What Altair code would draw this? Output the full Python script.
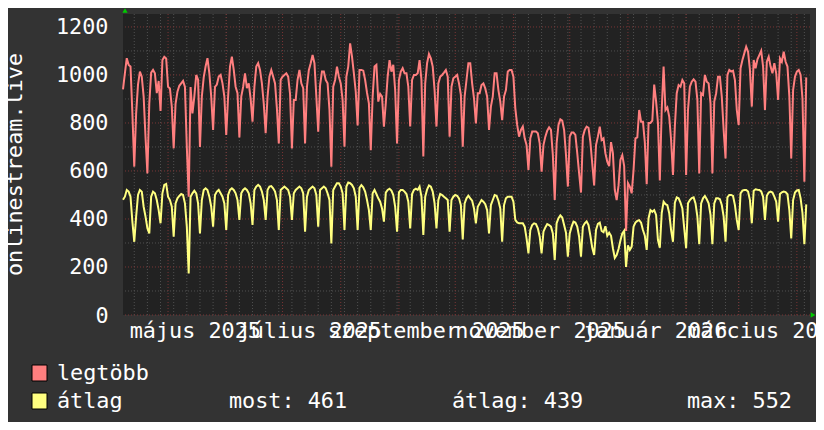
import altair as alt
import pandas as pd

# ---------------- data (daily values) ----------------
START = "2025-04-07"

legtobb = [
    940, 1007, 1070, 1042, 1035, 840, 618,
    840, 960, 1014, 993, 910, 740, 590,
    880, 1010, 1021, 1007, 924, 975, 850,
    1062, 1076, 1069, 951, 944, 868, 694,
    880, 930, 955, 965, 975, 950, 700,
    493, 950, 840, 910, 1000, 980, 700,
    910, 990, 1035, 1070, 1007, 910, 771,
    950, 960, 993, 1000, 965, 910, 750,
    910, 1035, 1076, 1021, 951, 924, 740,
    910, 950, 1007, 945, 965, 900, 805,
    950, 1035, 1049, 1021, 965, 880, 757,
    910, 993, 1020, 993, 965, 860, 715,
    980, 993, 1000, 1007, 993, 920, 694,
    896, 896, 980, 1021, 965, 945, 715,
    950, 1020, 1049, 1083, 1049, 910, 764,
    958, 1014, 1014, 979, 965, 854, 618,
    951, 979, 1035, 993, 965, 896, 701,
    993, 1035, 1132, 1076, 1007, 930, 790,
    1021, 1021, 1018, 979, 926, 882, 687,
    910, 1035, 1042, 889, 921, 910, 785,
    882, 993, 1062, 1014, 1042, 937, 715,
    979, 1014, 1028, 1007, 1007, 951, 785,
    979, 1000, 1000, 1007, 1062, 979, 660,
    965, 1049, 1087, 1069, 1035, 937, 785,
    965, 993, 1000, 1010, 1021, 993, 743,
    951, 986, 993, 1000, 965, 917, 701,
    910, 979, 1049, 1049, 965, 903, 798,
    924, 924, 958, 965, 944, 910, 771,
    868, 910, 1007, 1007, 937, 889, 812,
    910, 937, 1014, 1021, 1021, 993, 861,
    792, 743, 771, 785, 736, 708, 604,
    736, 764, 764, 764, 757, 715, 597,
    708, 743, 768, 782, 771, 667, 479,
    715, 792, 815, 810, 771, 667, 535,
    743, 760, 760, 750, 674, 590, 510,
    743, 771, 785, 780, 720, 630, 540,
    708, 743, 785, 729, 736, 674, 639,
    620, 720, 674, 521, 479, 540, 646,
    666, 620, 350, 550, 535, 507, 604,
    736, 740, 854, 805, 805, 720, 545,
    800, 800, 810, 960, 890, 800, 560,
    854, 1035, 854, 865, 826, 729, 583,
    785, 924, 958, 951, 979, 965, 583,
    854, 951, 972, 982, 972, 896, 590,
    924, 917, 1000, 972, 965, 882, 590,
    889, 924, 993, 993, 910, 771, 652,
    1000, 1021, 1014, 1018, 979, 854, 792,
    1028, 1062, 1090, 1118, 1097, 1021, 868,
    1062, 1028, 1065, 1083, 1101, 1035, 854,
    1055, 1076, 1035, 1007, 1049, 1007, 896,
    1069, 1055, 1097, 1055, 1035, 910, 652,
    937, 993, 1014, 1021, 1000, 900, 555,
    990,
]

atlag = [
    480, 493, 521, 514, 493, 389, 305,
    410, 500, 521, 514, 451, 410, 361,
    340, 493, 514, 507, 479, 437, 382,
    507, 542, 546, 493, 479, 451, 326,
    465, 486, 496, 504, 500, 465, 368,
    173, 493, 507, 518, 507, 465, 340,
    479, 521, 528, 521, 493, 451, 368,
    500, 514, 521, 507, 493, 465, 354,
    500, 521, 528, 521, 507, 479, 396,
    507, 521, 528, 521, 507, 465, 375,
    521, 535, 542, 535, 514, 479, 396,
    521, 535, 537, 528, 514, 479, 354,
    521, 528, 535, 528, 521, 493, 396,
    507, 521, 528, 535, 528, 507, 347,
    493, 521, 528, 535, 528, 500, 368,
    521, 528, 535, 528, 507, 479, 298,
    521, 535, 549, 549, 535, 507, 354,
    535, 552, 549, 542, 528, 493, 354,
    530, 541, 532, 514, 479, 437, 354,
    507, 521, 504, 486, 472, 444, 389,
    510, 521, 526, 518, 500, 451, 347,
    511, 521, 521, 514, 504, 472, 361,
    504, 521, 526, 521, 535, 493, 333,
    493, 523, 540, 535, 514, 465, 361,
    479, 504, 500, 493, 486, 479, 347,
    479, 493, 500, 497, 486, 458, 315,
    465, 486, 497, 486, 476, 444, 382,
    451, 465, 479, 472, 462, 437, 340,
    458, 479, 500, 497, 476, 444, 305,
    458, 486, 493, 493, 493, 472, 396,
    386, 382, 382, 382, 368, 319, 257,
    354, 375, 382, 379, 361, 326, 257,
    347, 365, 379, 375, 368, 340, 229,
    382, 403, 415, 406, 375, 343, 243,
    340, 368, 389, 385, 368, 326, 243,
    368, 382, 390, 375, 330, 280, 250,
    354, 380, 385, 350, 345, 370, 330,
    343, 330, 278, 238, 250, 275, 310,
    340, 351, 200, 290, 271, 285, 368,
    385, 392, 395, 385, 354, 330, 271,
    403, 437, 430, 437, 417, 312, 280,
    425, 472, 462, 458, 424, 354, 305,
    468, 490, 486, 468, 444, 361, 278,
    465, 479, 487, 490, 465, 410, 295,
    465, 486, 496, 482, 465, 417, 295,
    465, 486, 486, 482, 458, 410, 305,
    490, 500, 500, 496, 458, 396, 354,
    507, 518, 521, 521, 514, 479, 382,
    518, 524, 522, 521, 515, 493, 396,
    497, 510, 514, 510, 493, 472, 389,
    504, 511, 514, 512, 503, 437, 319,
    479, 510, 519, 521, 486, 424, 295,
    461,
]

series_names = ["legtöbb", "átlag"]
month_label_dates = ["2025-05-15T12:00:00", "2025-07-15T12:00:00", "2025-09-15T12:00:00",
                     "2025-11-15T12:00:00", "2026-01-15T12:00:00", "2026-03-15T12:00:00"]
month_label_texts = ["május 2025", "július 2025", "szeptember 2025",
                     "november 2025", "január 2026", "március 2026"]
y_ticks = [0, 200, 400, 600, 800, 1000, 1200]
y_minor = [100, 300, 500, 700, 900, 1100]
stat_texts = ["most: 461", "átlag: 439", "max: 552"]
y_title = "onlinestream.live"

# ---------------- styling ----------------
FONT = "DejaVu Sans Mono"
FS = 21.8
TXT = "#ffffff"
BG = "#333333"
PLOT_BG = "#222222"
RED = "#ff7f7f"
YEL = "#ffff80"
MINOR = "#505050"
MAJOR = "#7a3535"
ARROW = "#00cc00"

dates = pd.date_range(START, periods=len(legtobb), freq="D")
df = pd.DataFrame({"date": dates, series_names[0]: legtobb, series_names[1]: atlag})
long = df.melt("date", var_name="series", value_name="value")

week_lines = pd.DataFrame({"date": pd.date_range("2025-04-13", "2026-04-05", freq="7D")})
month_lines = pd.DataFrame({"date": pd.date_range("2025-05-01", "2026-04-01", freq="MS")})
hminor = pd.DataFrame({"v": y_minor})
hmajor = pd.DataFrame({"v": y_ticks})
mlabels = pd.DataFrame({"date": pd.to_datetime(month_label_dates), "t": month_label_texts})
one = pd.DataFrame({"k": [0]})

XS = alt.Scale(domain=[alt.DateTime(year=2025, month=4, date=7),
                       alt.DateTime(year=2026, month=4, date=8)])
YS = alt.Scale(domain=[0, 1254], nice=False, zero=False)
YAX = alt.Axis(values=y_ticks, format="d", grid=False, ticks=False, domain=False, labelFont=FONT,
               labelFontSize=FS, labelColor=TXT, labelPadding=15, title=None)


def X(field="date"):
    return alt.X(f"{field}:T", scale=XS, axis=None)


def Y(field):
    return alt.Y(f"{field}:Q", scale=YS, axis=YAX)


g_week = alt.Chart(week_lines).mark_rule(color=MINOR, strokeWidth=1, strokeDash=[1, 2]).encode(x=X())
g_hmin = alt.Chart(hminor).mark_rule(color=MINOR, strokeWidth=1, strokeDash=[1, 2]).encode(y=Y("v"))
g_month = alt.Chart(month_lines).mark_rule(color=MAJOR, strokeWidth=1, strokeDash=[1, 2]).encode(x=X())
g_hmaj = alt.Chart(hmajor).mark_rule(color=MAJOR, strokeWidth=1, strokeDash=[1, 2]).encode(y=Y("v"))

lines = alt.Chart(long).mark_line(strokeWidth=2).encode(
    x=X(),
    y=Y("value"),
    color=alt.Color("series:N", scale=alt.Scale(domain=series_names, range=[RED, YEL]), legend=None),
    order=alt.Order("date:T"),
)

xlabels = alt.Chart(mlabels).mark_text(font=FONT, fontSize=FS, color=TXT, align="center",
                                        baseline="alphabetic").encode(
    x=X(), y=alt.value(324), text="t:N")


def label(txt, x, y, angle=0, align="left"):
    return alt.Chart(one).mark_text(font=FONT, fontSize=FS, color=TXT, align=align,
                                    baseline="alphabetic", angle=angle).encode(
        x=alt.value(x), y=alt.value(y), text=alt.value(txt))


def swatch(col, y0):
    return alt.Chart(one).mark_rect(fill=col, stroke="#000000", strokeWidth=1).encode(
        x=alt.value(-91), x2=alt.value(-76), y=alt.value(y0), y2=alt.value(y0 + 16))


ytitle = label(y_title, -101.5, 150.5, angle=270, align="center")
arrow_up = alt.Chart(one).mark_point(shape="triangle-up", filled=True, color=ARROW, size=28,
                                     opacity=1).encode(x=alt.value(2), y=alt.value(-3.5))
arrow_rt = alt.Chart(one).mark_point(shape="triangle-right", filled=True, color=ARROW, size=28,
                                     opacity=1).encode(x=alt.value(690), y=alt.value(301))

legend = [
    swatch(RED, 351), label(series_names[0], -66, 365.5),
    swatch(YEL, 379), label(series_names[1], -66, 393.5),
    label(stat_texts[0], 106, 393.5),
    label(stat_texts[1], 329, 393.5),
    label(stat_texts[2], 564, 393.5),
]

chart = alt.layer(
    g_week, g_hmin, g_month, g_hmaj, lines, xlabels, ytitle, arrow_up, arrow_rt, *legend
).properties(
    width=687, height=301,
    padding={"left": 115, "top": 6, "right": 6, "bottom": 107},
    autosize=alt.AutoSizeParams(type="none"),
    usermeta={"embedOptions": {"defaultStyle": "html,body{background:#333333;}"}},
).configure(background=BG).configure_view(fill=PLOT_BG, strokeWidth=0)

chart.save("out.html", embed_options={"renderer": "svg", "actions": False})
